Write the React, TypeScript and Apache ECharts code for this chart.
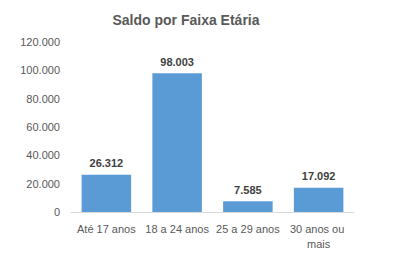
import React, { useEffect, useRef } from "react";
import * as echarts from "echarts";

const categories = ["Até 17 anos", "18 a 24 anos", "25 a 29 anos", "30 anos ou mais"];
const values = [26312, 98003, 7585, 17092];
const titleText = "Saldo por Faixa Etária";

const fmt = (v: number) => String(Math.round(v)).replace(/\B(?=(\d{3})+(?!\d))/g, ".");

export default function App() {
  const ref = useRef<HTMLDivElement>(null);
  useEffect(() => {
    if (!ref.current) return;
    const chart = echarts.init(ref.current, undefined, { renderer: "svg" });
    chart.setOption({
      animation: false,
      backgroundColor: "#ffffff",
      title: {
        text: titleText,
        left: 181,
        textAlign: "center",
        top: 8,
        textStyle: { fontFamily: "Liberation Sans", fontWeight: "bold", fontSize: 14, color: "#595959" },
      },
      grid: { left: 71, right: 51, top: 42, bottom: 47, containLabel: false },
      xAxis: {
        type: "category",
        data: categories,
        axisLine: { lineStyle: { color: "#D9D9D9", width: 1 } },
        axisTick: { show: false },
        axisLabel: {
          color: "#595959",
          fontFamily: "Liberation Sans",
          fontSize: 11,
          margin: 9,
          width: 68,
          overflow: "break",
          lineHeight: 15,
          interval: 0,
        },
      },
      yAxis: {
        type: "value",
        min: 0,
        max: 120000,
        interval: 20000,
        splitLine: { show: false },
        axisLine: { show: false },
        axisTick: { show: false },
        axisLabel: {
          color: "#595959",
          fontFamily: "Liberation Sans",
          fontSize: 11,
          margin: 11,
          formatter: (v: number) => fmt(v),
        },
      },
      series: [
        {
          type: "bar",
          data: values,
          barWidth: "70%",
          itemStyle: { color: "#5B9BD5" },
          label: {
            show: true,
            position: "top",
            distance: 6,
            color: "#404040",
            fontFamily: "Liberation Sans",
            fontWeight: "bold",
            fontSize: 11,
            formatter: (p: any) => fmt(p.value),
          },
        },
      ],
    });
    return () => chart.dispose();
  }, []);
  return <div ref={ref} style={{ position: "fixed", left: 0, top: 0, width: 405, height: 259 }} />;
}
